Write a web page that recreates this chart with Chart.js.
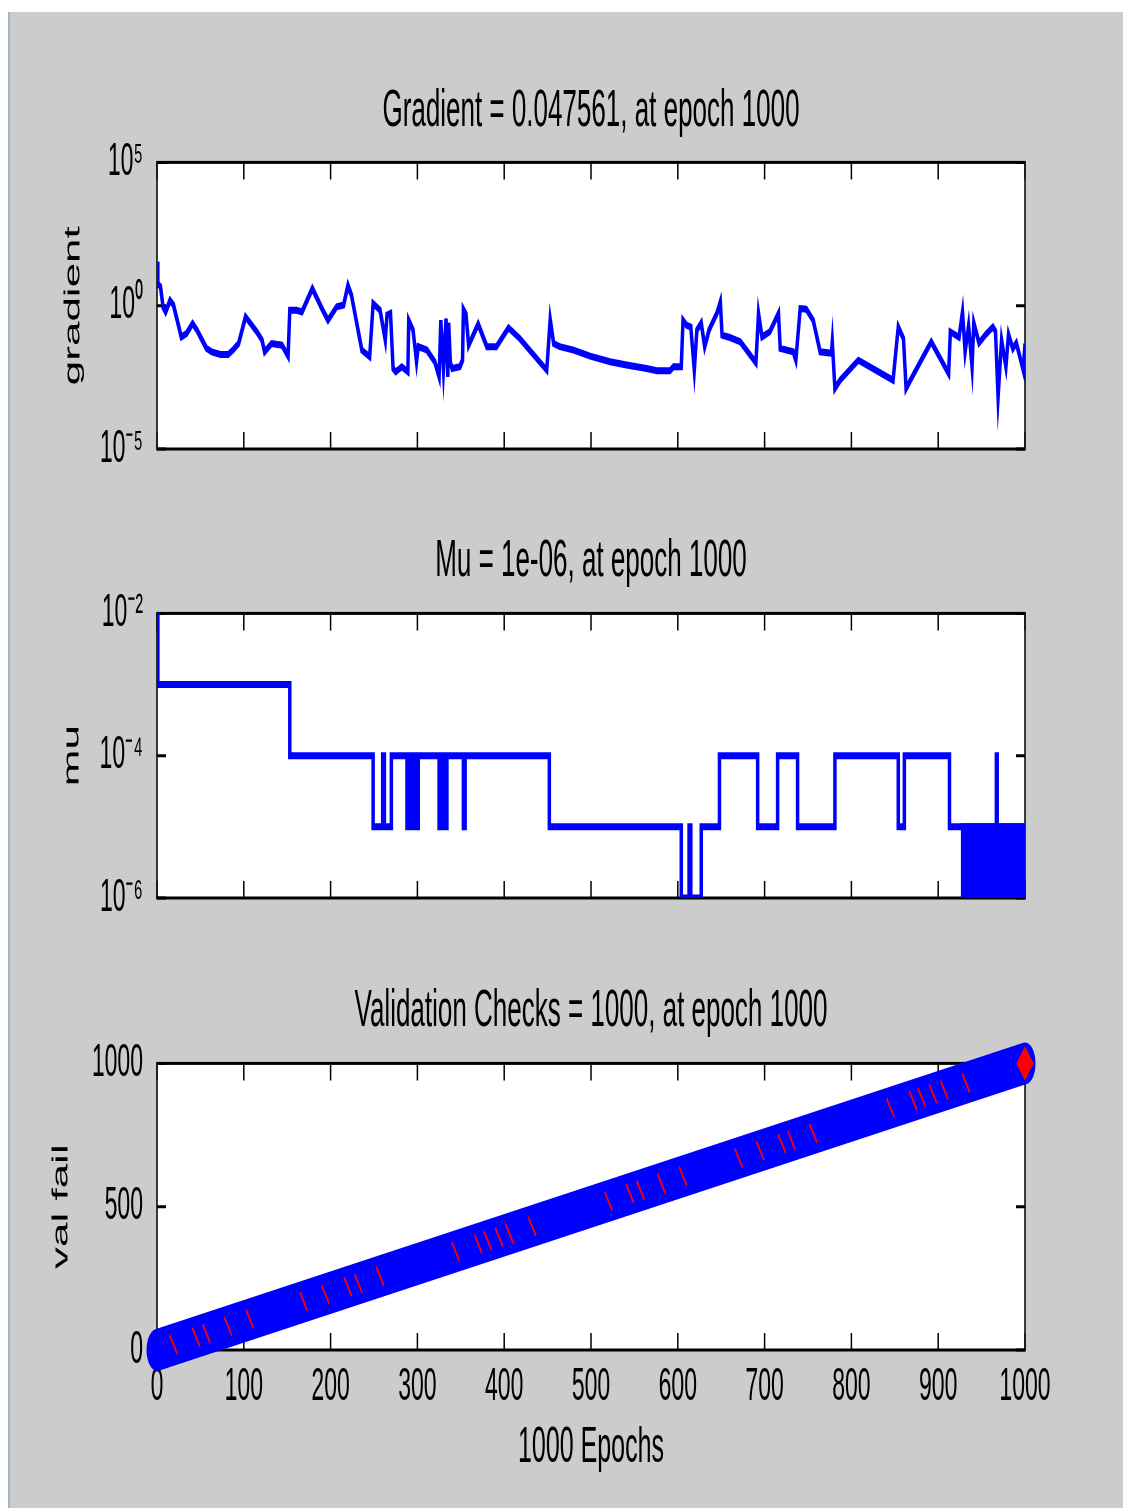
<!DOCTYPE html>
<html>
<head>
<meta charset="utf-8">
<title>Training state</title>
<script src="https://cdn.jsdelivr.net/npm/chart.js@4.4.1/dist/chart.umd.min.js"></script>
<style>
    html, body { margin: 0; padding: 0; background: #fff; overflow: hidden; }
    /* the reference is a low-res figure stretched ~2x vertically, so draw at half height and stretch */
    #frame { position: absolute; left: 0; top: 0; width: 1123px; height: 754px; transform: scaleY(2); transform-origin: 0 0; }
    #panelBg { position: absolute; left: 8px; top: 5.5px; right: 0; bottom: 0; background: #cccccc; border-left: 2px solid #a3b6c6; }
    .panel { position: absolute; left: 0; width: 1123px; }
</style>
</head>
<body>
<div id="frame">
    <div id="panelBg"></div>
    <div class="panel" style="top:20px"><canvas id="gradientChart" width="1123" height="240"></canvas></div>
    <div class="panel" style="top:250px"><canvas id="muChart" width="1123" height="230"></canvas></div>
    <div class="panel" style="top:480px"><canvas id="valFailChart" width="1123" height="274"></canvas></div>
</div>
<script>
// x axis (shared)
const epochTicks = [0, 100, 200, 300, 400, 500, 600, 700, 800, 900, 1000];
const xLabel = '1000 Epochs';

// gradient panel
const gradTitle = 'Gradient = 0.047561, at epoch 1000';
const gradTicks = [1e-5, 1, 1e5];
const gradTickLabels = ['10⁻⁵', '10⁰', '10⁵'];
const gradientEpochs = [0, 1, 4, 7, 10, 15, 19, 28, 34, 41, 46, 57, 63, 73, 82, 88, 94, 102, 115, 121,
    124, 132, 144, 151, 153, 161, 167, 179, 190, 197, 207, 215, 220, 224, 236, 245, 249, 257, 263, 265,
    269, 272, 275, 282, 289, 290, 295, 299, 301, 311, 320, 325, 327, 330, 333, 335, 336, 338, 340, 349,
    352, 353, 356, 359, 370, 380, 391, 405, 418, 449, 453, 457, 464, 480, 499, 522, 541, 564, 576, 591,
    595, 604, 606, 610, 615, 619, 622, 627, 631, 636, 645, 649, 651, 660, 672, 690, 693, 697, 706, 716,
    718, 733, 736, 741, 748, 756, 764, 777, 778, 781, 787, 808, 848, 854, 860, 863, 868, 892, 912, 914,
    924, 928, 931, 935, 939, 941, 947, 955, 963, 966, 969, 973, 978, 981, 986, 990, 998, 1000];
const gradientValues = [33.9, 5.89, 4.57, 0.912, 0.603, 1.55, 1.05, 0.0813, 0.107, 0.240, 0.141, 0.0324, 0.0245, 0.0200, 0.0200, 0.0295, 0.0479, 0.407, 0.123, 0.0631,
    0.0245, 0.0479, 0.0417, 0.0174, 0.692, 0.692, 0.603, 3.98, 0.794, 0.309, 0.912, 1.05, 5.13, 2.34, 0.0282, 0.0166, 1.20, 0.692, 0.0631, 0.468,
    0.537, 0.00646, 0.00490, 0.00741, 0.00490, 0.309, 0.141, 0.0110, 0.0372, 0.0282, 0.0110, 0.00331, 0.309, 0.00631, 0.355, 0.00331, 0.251, 0.0100, 0.00646, 0.00741,
    0.0126, 0.741, 0.501, 0.0417, 0.229, 0.0372, 0.0372, 0.170, 0.0708, 0.00562, 0.331, 0.0479, 0.0372, 0.0282, 0.0174, 0.0110, 0.00851, 0.00646, 0.00537, 0.00537,
    0.00741, 0.00741, 0.309, 0.209, 0.178, 0.00562, 0.141, 0.251, 0.0372, 0.141, 0.537, 1.35, 0.0933, 0.0776, 0.0550, 0.0102, 0.537, 0.0813, 0.123, 0.537,
    0.0324, 0.0245, 0.0126, 0.794, 0.759, 0.309, 0.0245, 0.0219, 0.0550, 0.00129, 0.00251, 0.0126, 0.00251, 0.182, 0.0708, 0.00129, 0.00251, 0.0550, 0.00427, 0.123,
    0.0794, 0.603, 0.0251, 0.200, 0.00741, 0.251, 0.0501, 0.100, 0.182, 0.126, 0.000661, 0.0631, 0.00741, 0.100, 0.0316, 0.0501, 0.00562, 0.047561];

// mu panel (stepped: each value holds until the next epoch)
const muTitle = 'Mu = 1e-06, at epoch 1000';
const muTicks = [1e-6, 1e-4, 1e-2];
const muTickLabels = ['10⁻⁶', '10⁻⁴', '10⁻²'];
const muEpochs = [0, 1, 153, 249, 260, 262, 270, 288, 289, 290, 292, 293, 295, 296, 298, 299, 301, 325, 328, 331,
    334, 353, 355, 452, 604, 613, 615, 627, 648, 692, 715, 738, 781, 854, 861, 913, 967, 968, 1000];
const muValues = [1e-2, 1e-3, 1e-4, 1e-5, 1e-4, 1e-5, 1e-4, 1e-5, 1e-4, 1e-5, 1e-4, 1e-5, 1e-4, 1e-5, 1e-4, 1e-5, 1e-4, 1e-5, 1e-4, 1e-5,
    1e-4, 1e-5, 1e-4, 1e-5, 1e-6, 1e-5, 1e-6, 1e-5, 1e-4, 1e-5, 1e-4, 1e-5, 1e-4, 1e-5, 1e-4, 1e-5, 1e-4, 1e-5, 1e-6];
// epochs 926-1000 flip between 1e-5 and 1e-6 every epoch: drawn as a solid block
const muBlockEpochs = [926, 1000];
const muBlockValues = [1e-5, 1e-5];

// validation checks panel
const valTitle = 'Validation Checks = 1000, at epoch 1000';
const valTicks = [0, 500, 1000];
const valTickLabels = ['0', '500', '1000'];
const valFailEpochs = [0, 1000];
const valFailValues = [0, 1000];
const valMarkEpochs = [19, 45, 57, 82, 107, 169, 194, 220, 232, 257, 344, 370, 381, 394, 406, 432,
    520, 545, 557, 581, 606, 670, 695, 720, 731, 756, 845, 871, 881, 894, 907, 932];
const bestEpoch = [1000];
const bestValue = [1000];

Chart.defaults.font.family = '"Liberation Sans", Arial, Helvetica, sans-serif';
Chart.defaults.color = '#000';

// white plot box, black frame and inward ticks on all four sides
const matlabAxes = {
    id: 'matlabAxes',
    beforeDraw(chart) {
        const { ctx, chartArea: a } = chart;
        ctx.save();
        ctx.fillStyle = '#fff';
        ctx.fillRect(a.left, a.top, a.width, a.height);
        ctx.restore();
    },
    beforeDatasetsDraw(chart) {
        const { ctx, chartArea: a, scales: { x, y } } = chart;
        ctx.save();
        ctx.strokeStyle = '#000';
        ctx.lineWidth = 1.5;
        ctx.strokeRect(a.left, a.top, a.width, a.height);
        ctx.beginPath();
        x.ticks.forEach(t => {
            const px = x.getPixelForValue(t.value);
            ctx.moveTo(px, a.top);
            ctx.lineTo(px, a.top + 8.5);
            ctx.moveTo(px, a.bottom);
            ctx.lineTo(px, a.bottom - 8.5);
        });
        y.ticks.forEach(t => {
            const py = y.getPixelForValue(t.value);
            ctx.moveTo(a.left, py);
            ctx.lineTo(a.left + 9, py);
            ctx.moveTo(a.right, py);
            ctx.lineTo(a.right - 9, py);
        });
        ctx.stroke();
        ctx.restore();
    }
};

function toPoints(xs, ys) {
    return xs.map((x, i) => ({ x: x, y: ys[i] }));
}

function panelOptions(cfg) {
    return {
        responsive: false,
        animation: false,
        devicePixelRatio: 2,
        layout: { padding: { left: 0, right: 98, top: 0, bottom: 0 } },
        plugins: {
            legend: { display: false },
            tooltip: { enabled: false },
            title: {
                display: true,
                text: cfg.title,
                fullSize: false,
                color: '#000',
                font: { size: 26, weight: 'normal' },
                padding: { top: cfg.titleTop, bottom: cfg.titleBottom }
            }
        },
        scales: {
            x: {
                type: 'linear',
                min: 0,
                max: 1000,
                grid: { display: false, drawTicks: false },
                border: { display: false },
                afterBuildTicks: scale => { scale.ticks = epochTicks.map(v => ({ value: v })); },
                ticks: { display: cfg.showX, padding: 5, font: { size: 23 }, callback: value => String(value) },
                title: { display: cfg.showX, text: xLabel, font: { size: 25 }, padding: { top: 0, bottom: 15 } },
                afterFit: scale => { scale.height = cfg.xHeight; }
            },
            y: {
                type: cfg.yType,
                min: cfg.yMin,
                max: cfg.yMax,
                grid: { display: false, drawTicks: false },
                border: { display: false },
                afterBuildTicks: scale => { scale.ticks = cfg.yTicks.map(v => ({ value: v })); },
                ticks: {
                    padding: 14,
                    font: { size: 23 },
                    callback: (value, index) => cfg.yTickLabels[index]
                },
                title: { display: true, text: cfg.yLabel, font: { size: 22 }, padding: { top: cfg.yLabelPad, bottom: 0 } },
                afterFit: scale => { scale.width = 157; }
            }
        }
    };
}

document.addEventListener('DOMContentLoaded', () => {
    initializeGradientChart();
    initializeMuChart();
    initializeValFailChart();
});

function initializeGradientChart() {
    const ctx = document.getElementById('gradientChart').getContext('2d');
    new Chart(ctx, {
        type: 'line',
        data: {
            datasets: [{
                label: 'gradient',
                data: toPoints(gradientEpochs, gradientValues),
                borderColor: '#0000ff',
                borderWidth: 3.5,
                pointRadius: 0,
                tension: 0,
                fill: false
            }]
        },
        options: panelOptions({
            title: gradTitle, titleTop: 20, titleBottom: 10,
            showX: false, xHeight: 35.5,
            yType: 'logarithmic', yMin: 1e-5, yMax: 1e5,
            yTicks: gradTicks, yTickLabels: gradTickLabels,
            yLabel: 'gradient', yLabelPad: 60
        }),
        plugins: [matlabAxes]
    });
}

function initializeMuChart() {
    const ctx = document.getElementById('muChart').getContext('2d');
    new Chart(ctx, {
        type: 'line',
        data: {
            datasets: [
                {
                    label: 'mu',
                    data: toPoints(muEpochs, muValues),
                    stepped: 'before',
                    borderColor: '#0000ff',
                    borderWidth: 3.5,
                    pointRadius: 0,
                    fill: false
                },
                {
                    label: 'mu block',
                    data: toPoints(muBlockEpochs, muBlockValues),
                    borderColor: '#0000ff',
                    backgroundColor: '#0000ff',
                    borderWidth: 3.5,
                    pointRadius: 0,
                    fill: 'start'
                }
            ]
        },
        options: panelOptions({
            title: muTitle, titleTop: 15, titleBottom: 10.5,
            showX: false, xHeight: 31,
            yType: 'logarithmic', yMin: 1e-6, yMax: 1e-2,
            yTicks: muTicks, yTickLabels: muTickLabels,
            yLabel: 'mu', yLabelPad: 59
        }),
        plugins: [matlabAxes]
    });
}

function initializeValFailChart() {
    const ctx = document.getElementById('valFailChart').getContext('2d');
    new Chart(ctx, {
        type: 'line',
        data: {
            datasets: [
                {
                    label: 'best',
                    data: toPoints(bestEpoch, bestValue),
                    showLine: false,
                    pointStyle: 'rectRot',
                    pointRadius: 8,
                    pointBackgroundColor: '#ff0000',
                    pointBorderColor: '#ff0000',
                    clip: false
                },
                {
                    label: 'marks',
                    data: toPoints(valMarkEpochs, valMarkEpochs),
                    showLine: false,
                    pointStyle: 'line',
                    pointRadius: 6,
                    pointRotation: 51,
                    pointBorderColor: '#ff0000',
                    pointBorderWidth: 1.5,
                    clip: false
                },
                {
                    label: 'val fail',
                    data: toPoints(valFailEpochs, valFailValues),
                    borderColor: '#0000ff',
                    borderWidth: 21,
                    borderCapStyle: 'round',
                    pointRadius: 0,
                    fill: false,
                    clip: false
                }
            ]
        },
        options: panelOptions({
            title: valTitle, titleTop: 10, titleBottom: 10.5,
            showX: true, xHeight: 79,
            yType: 'linear', yMin: 0, yMax: 1000,
            yTicks: valTicks, yTickLabels: valTickLabels,
            yLabel: 'val fail', yLabelPad: 48
        }),
        plugins: [matlabAxes]
    });
}
</script>
</body>
</html>
